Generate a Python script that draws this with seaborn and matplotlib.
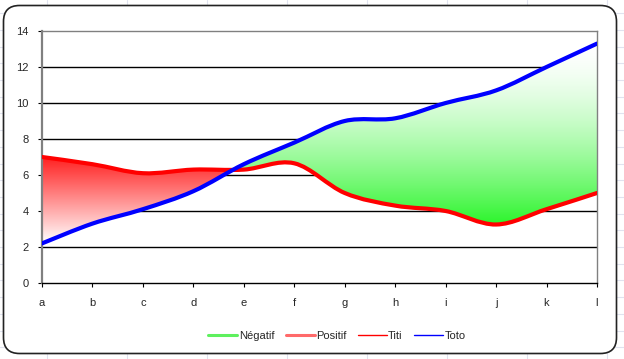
import numpy as np
import matplotlib
matplotlib.use("Agg")
import matplotlib.pyplot as plt
import seaborn as sns
from matplotlib.path import Path
from matplotlib.patches import PathPatch, FancyBboxPatch
from matplotlib.lines import Line2D
from matplotlib.transforms import IdentityTransform

categories = ['a', 'b', 'c', 'd', 'e', 'f', 'g', 'h', 'i', 'j', 'k', 'l']
titi = [7.0, 6.6, 6.1, 6.3, 6.3, 6.65, 5.0, 4.3, 4.0, 3.25, 4.1, 5.0]
toto = [2.2, 3.3, 4.1, 5.1, 6.6, 7.8, 9.0, 9.15, 10.0, 10.7, 12.0, 13.3]
y_ticks = [0, 2, 4, 6, 8, 10, 12, 14]


def smooth_path(xs, ys):
    # excel style smoothed line: bezier with catmull-rom control points
    pts = np.column_stack([xs, ys]).astype(float)
    n = len(pts)
    verts = [pts[0]]
    codes = [Path.MOVETO]
    for i in range(n - 1):
        p0 = pts[max(i - 1, 0)]
        p1 = pts[i]
        p2 = pts[i + 1]
        p3 = pts[min(i + 2, n - 1)]
        verts += [p1 + (p2 - p0) / 6, p2 - (p3 - p1) / 6, p2]
        codes += [Path.CURVE4] * 3
    return verts, codes


def gradient(c_top, c_bot, gamma=1.0, n=256):
    t = np.linspace(0, 1, n) ** gamma  # 0 at top
    c_top = np.array(c_top) / 255
    c_bot = np.array(c_bot) / 255
    rgb = c_top[None, :] * (1 - t[:, None]) + c_bot[None, :] * t[:, None]
    return rgb[::-1][:, None, :]  # origin lower


sns.set_theme(style="white")
plt.rcParams['font.family'] = ['Liberation Sans', 'DejaVu Sans']

W, H = 624, 359
fig = plt.figure(figsize=(W / 100, H / 100), dpi=100)
fig.patch.set_facecolor('white')

# faint worksheet grid behind the chart
for gx in range(47, W, 80):
    fig.add_artist(Line2D([gx, gx], [0, H], transform=IdentityTransform(), color='#e0e3ef', lw=0.8, zorder=0))
for gy in np.arange(H - 13.3, 0, -16.7):
    fig.add_artist(Line2D([0, W], [gy, gy], transform=IdentityTransform(), color='#e0e3ef', lw=0.8, zorder=0))
frame = FancyBboxPatch((3.5, H - 353.5), 613, 348, boxstyle="round,pad=0,rounding_size=16",
                       transform=IdentityTransform(), facecolor='white', edgecolor='#222222', lw=1.2, zorder=0.5)
fig.add_artist(frame)

ax = fig.add_axes([42 / W, 1 - 283 / H, 555 / W, 252 / H])
ax.set_zorder(2)
x = np.arange(len(categories))

ax.set_xlim(0, len(categories) - 1)
ax.set_ylim(0, 14)
ax.set_yticks(y_ticks)
ax.set_xticks(x)
ax.set_xticklabels(categories)
for yv in y_ticks[1:-1]:
    ax.axhline(yv, color='black', lw=1.0, zorder=0.5)

tv, tc = smooth_path(x, titi)
bv, bc = smooth_path(x[::-1], toto[::-1])
area = Path(tv + bv + [bv[0]], tc + [Path.LINETO] + bc[1:] + [Path.CLOSEPOLY])
clip = PathPatch(area, transform=ax.transData, facecolor='none', edgecolor='none')
ax.add_patch(clip)

# where the two smoothed curves cross
line_titi = Path(tv, tc).to_polygons(closed_only=False)[0]
line_toto = Path(*smooth_path(x, toto)).to_polygons(closed_only=False)[0]
xx = np.linspace(0, len(categories) - 1, 4000)
d = np.interp(xx, line_titi[:, 0], line_titi[:, 1]) - np.interp(xx, line_toto[:, 0], line_toto[:, 1])
xc = xx[np.argmax(d < 0)]

red = ax.imshow(gradient((255, 30, 30), (255, 255, 255)), extent=[0, xc, min(toto), max(titi)],
                origin='lower', aspect='auto', zorder=1, interpolation='bilinear')
red.set_clip_path(clip)
green = ax.imshow(gradient((255, 255, 255), (45, 245, 45), gamma=1.6), extent=[xc, x[-1], min(titi), max(toto)],
                  origin='lower', aspect='auto', zorder=1, interpolation='bilinear')
green.set_clip_path(clip)

ax.add_patch(PathPatch(Path(tv, tc), transform=ax.transData, fill=False, edgecolor='#ff0000', lw=3,
                       capstyle='round', joinstyle='round', zorder=3))
ax.add_patch(PathPatch(Path(*smooth_path(x, toto)), transform=ax.transData, fill=False, edgecolor='#0000ff', lw=3,
                       capstyle='round', joinstyle='round', zorder=3))
ax.set_xlim(0, len(categories) - 1)
ax.set_ylim(0, 14)

for s in ['top', 'right']:
    ax.spines[s].set_color('#808080')
    ax.spines[s].set_linewidth(1.0)
ax.spines['left'].set_color('#808080')
ax.spines['left'].set_linewidth(1.6)
ax.spines['bottom'].set_color('black')
ax.spines['bottom'].set_linewidth(1.0)
ax.tick_params(axis='y', direction='out', length=3, width=0.8, color='black', pad=6.5, labelsize=8, left=True)
ax.tick_params(axis='x', direction='out', length=3, width=0.8, color='black', pad=8, labelsize=8, bottom=True)
ax.grid(False)

handles = [Line2D([], [], color='#5ef05e', lw=2.2),
           Line2D([], [], color='#ff6a6a', lw=2.2),
           Line2D([], [], color='#ff0000', lw=1.0),
           Line2D([], [], color='#0000ff', lw=1.0)]
fig.legend(handles, ['Négatif', 'Positif', 'Titi', 'Toto'], loc='center', bbox_to_anchor=(337 / W, 1 - 336 / H),
           ncol=4, frameon=False, fontsize=8, handlelength=2.6, handletextpad=0.15, columnspacing=1.0)

fig.savefig('out.png', dpi=100)
